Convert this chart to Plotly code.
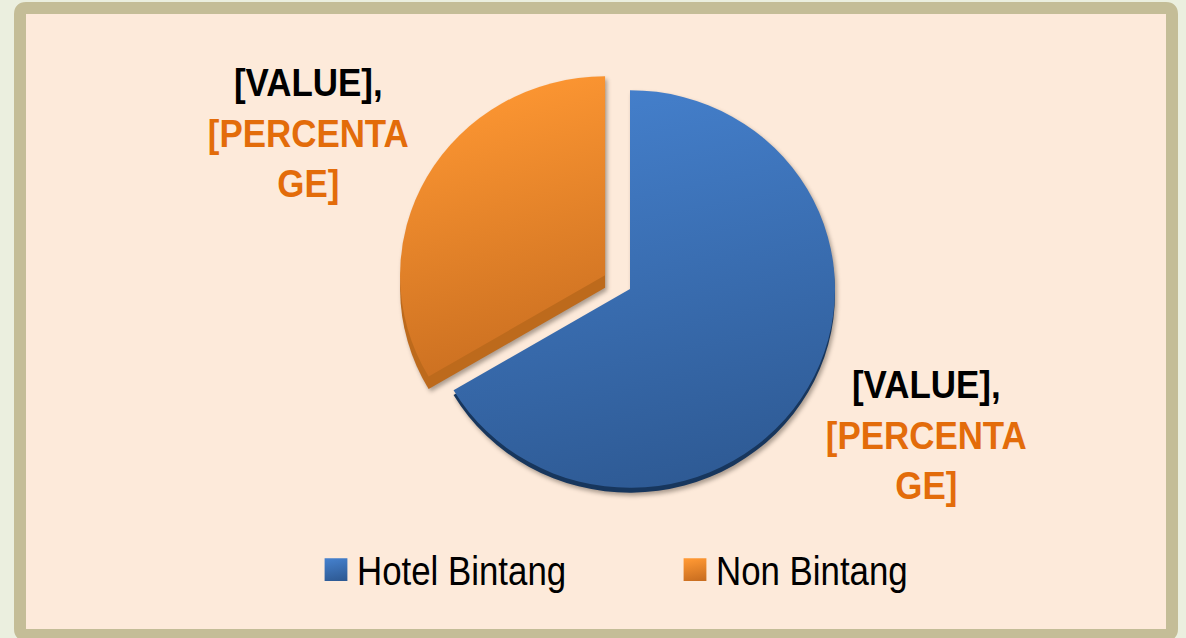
import plotly.graph_objects as go

categories = ["Hotel Bintang", "Non Bintang"]
shares = [66.5, 33.5]
face_colors = ["#3A6DAE", "#E5832D"]
rim_colors = ["#17365D", "#BD6A1C"]
label_value = "[VALUE],"
label_percent = ["[PERCENTA", "GE]"]

W, H = 1186, 638
CX, CY, R = 630, 289, 205
PULL = [0, 0.14]
FONT = "Liberation Sans, Arial, sans-serif"


def domain(dy=0):
    half = R * (1 + max(PULL))
    return dict(
        x=[(CX - half) / W, (CX + half) / W],
        y=[1 - (CY + dy + half) / H, 1 - (CY + dy - half) / H],
    )


def pie(colors, dy, legend, name):
    return go.Pie(
        labels=categories, values=shares, sort=False, direction="clockwise",
        rotation=0, pull=PULL, domain=domain(dy), textinfo="none",
        hoverinfo="label+percent", showlegend=legend, name=name,
        marker=dict(colors=colors, line=dict(width=0)),
    )


fig = go.Figure([
    pie(["rgba(0,0,0,0)", rim_colors[1]], 13, False, "rim-orange"),
    pie([rim_colors[0], "rgba(0,0,0,0)"], 5, False, "rim-blue"),
    pie(face_colors, 0, True, "face"),
])

# rounded frame
x0, x1, y0, y1, c = 20 / W, 1172 / W, 1 - 8 / H, 1 - 635 / H, 6
cx, cy = c / W, c / H
frame = (f"M{x0 + cx},{y0} L{x1 - cx},{y0} Q{x1},{y0} {x1},{y0 - cy} "
         f"L{x1},{y1 + cy} Q{x1},{y1} {x1 - cx},{y1} L{x0 + cx},{y1} "
         f"Q{x0},{y1} {x0},{y1 + cy} L{x0},{y0 - cy} Q{x0},{y0} {x0 + cx},{y0} Z")
fig.add_shape(type="path", path=frame, xref="paper", yref="paper", layer="below",
              fillcolor="#FDEADA", line=dict(color="#C4BD97", width=12))


def data_label(px, py):
    text = (f"<b><span style='color:#000000'>{label_value}</span><br>"
            f"<span style='color:#E36C0A'>{label_percent[0]}<br>{label_percent[1]}</span></b>")
    fig.add_annotation(x=px / W, y=1 - py / H, xref="paper", yref="paper", text=text,
                       showarrow=False, align="center", xanchor="center", yanchor="middle",
                       font=dict(family=FONT, size=39, color="#000000"))


data_label(308, 133)
data_label(927, 435)

fig.update_layout(
    width=W, height=H, margin=dict(l=0, r=0, t=0, b=0), autosize=False,
    paper_bgcolor="#EBEFDF", plot_bgcolor="#EBEFDF",
    legend=dict(
        orientation="h", x=316 / W, y=1 - 569 / H, xanchor="left", yanchor="middle",
        font=dict(family=FONT, size=41, color="#000000"),
        bgcolor="rgba(0,0,0,0)", entrywidth=314, entrywidthmode="pixels",
        itemclick=False, itemdoubleclick=False,
    ),
)

post = """
document.body.style.margin='0';
var NS='http://www.w3.org/2000/svg';
var svg=document.querySelector('.main-svg');
var defs=svg.querySelector('defs');
function grad(id,a,b){
  var g=document.createElementNS(NS,'linearGradient');
  g.setAttribute('id',id);g.setAttribute('x1','0.4');g.setAttribute('y1','0');g.setAttribute('x2','0.6');g.setAttribute('y2','1');
  [[0,a],[1,b]].forEach(function(s){var st=document.createElementNS(NS,'stop');
    st.setAttribute('offset',s[0]);st.setAttribute('stop-color',s[1]);g.appendChild(st);});
  defs.appendChild(g);
}
grad('gBlue','#447FCB','#2E5A94');
grad('gOrange','#FF9833','#C96E20');
var layer=document.querySelector('.pielayer');
layer.setAttribute('transform','translate(0,'+(289*0.03)+') scale(1,0.97)');
layer.style.filter='drop-shadow(2px 3px 2px rgba(70,60,50,0.45))';
var traces=document.querySelectorAll('.pielayer .trace');
var face=traces[traces.length-1].querySelectorAll('path.surface');
face[0].style.fill='url(#gBlue)';
face[1].style.fill='url(#gOrange)';
document.querySelectorAll('.legendpie').forEach(function(p,i){
  p.style.fill=i==0?'url(#gBlue)':'url(#gOrange)';
  p.setAttribute('transform',(p.getAttribute('transform')||'')+' translate(0,1) scale(1.9)');
});
function squeeze(t,k,mode,dx){
  var b=t.getBBox();
  var ox=mode=='left'?b.x:b.x+b.width/2;
  var old=t.getAttribute('transform')||'';
  t.setAttribute('transform','translate('+(ox+dx)+',0) scale('+k+',1) translate('+(-ox)+',0) '+old);
}
document.querySelectorAll('.legendtext').forEach(function(t){squeeze(t,0.85,'left',1);});
document.querySelectorAll('.annotation-text').forEach(function(t){squeeze(t,0.895,'center',0);});
"""
fig.write_html("out.html", post_script=post, config=dict(displayModeBar=False))
